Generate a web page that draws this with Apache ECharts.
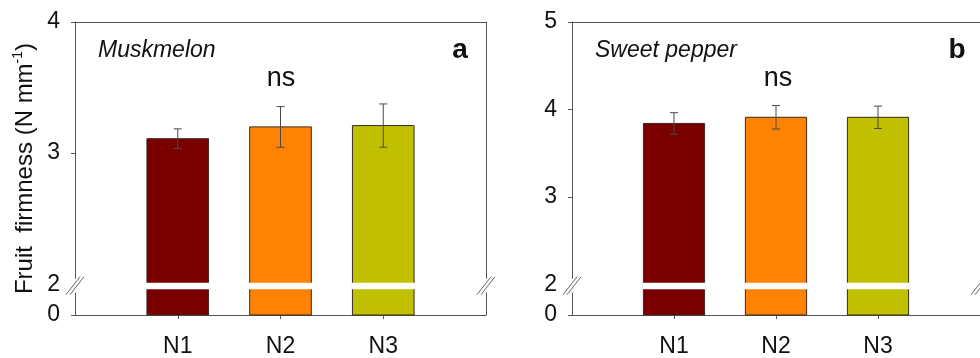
<!DOCTYPE html>
<html>
<head>
<meta charset="utf-8">
<script src="https://cdn.jsdelivr.net/npm/echarts@6/dist/echarts.min.js"></script>
<style>
  html, body { margin: 0; padding: 0; background: #fff; }
  #chart { width: 980px; height: 358px; }
</style>
</head>
<body>
<div id="chart"></div>
<script>
// Treatments and measured fruit firmness (mean ± SE)
const treatments = ['N1', 'N2', 'N3'];
const melonMean = [3.11, 3.20, 3.21];
const melonErr = [0.075, 0.155, 0.165];
const pepperMean = [3.84, 3.91, 3.91];
const pepperErr = [0.123, 0.134, 0.128];

// Tick labels of the broken y axes
const melonTicks = [0, 2, 3, 4];
const pepperTicks = [0, 2, 3, 4, 5];

const barColors = ['#7a0000', '#ff8200', '#c0c000'];
const FONT = '"Liberation Sans", Arial, sans-serif';
const AXIS_COLOR = '#555';
const BREAK_AT = 2;          // the axis is broken between 0 and 2
const BREAK_PX = 31;         // pixel height of the compressed 0..2 segment

// Layout of the two panels
const panels = [
  { left: 75, top: 22, width: 411, height: 295, ticks: melonTicks, mean: melonMean, err: melonErr,
    crop: 'Muskmelon', letter: 'a', yName: true },
  { left: 572, top: 22, width: 411, height: 296, ticks: pepperTicks, mean: pepperMean, err: pepperErr,
    crop: 'Sweet pepper', letter: 'b', yName: false }
];

// Broken-scale helper: values below the break share a short segment at the bottom
panels.forEach(p => {
  const max = p.ticks[p.ticks.length - 1];
  p.max = max;
  p.gapUnits = BREAK_PX * (max - BREAK_AT) / (p.height - BREAK_PX);
  p.min = BREAK_AT - p.gapUnits;
  p.toAxis = v => v >= BREAK_AT ? v : p.min + v * p.gapUnits / BREAK_AT;
});

const BAR_W = 0.6;  // bar width in x-axis units (one unit per treatment slot)

function barRenderer(p) {
  return function (params, api) {
    const x = api.value(0), y = api.value(1), e = api.value(2);
    const topPt = api.coord([x, y]);
    const basePt = api.coord([x, p.toAxis(0)]);
    const brk = api.coord([x, BREAK_AT])[1];
    const w = api.size([BAR_W, 0])[0];
    const hi = api.coord([x, y + e])[1];
    const lo = api.coord([x, y - e])[1];
    const cx = topPt[0];
    const cap = 4;
    const errStyle = { stroke: '#4a4a4a', lineWidth: 1 };
    return {
      type: 'group',
      children: [
        { type: 'rect', shape: { x: cx - w / 2, y: topPt[1], width: w, height: basePt[1] - topPt[1] },
          style: { fill: barColors[params.dataIndex], stroke: '#3b2a20', lineWidth: 1 } },
        { type: 'rect', shape: { x: cx - w / 2 - 1, y: brk - 1.5, width: w + 2, height: 6.5 },
          style: { fill: '#ffffff' } },
        { type: 'line', shape: { x1: cx, y1: hi, x2: cx, y2: lo }, style: errStyle },
        { type: 'line', shape: { x1: cx - cap, y1: hi, x2: cx + cap, y2: hi }, style: errStyle },
        { type: 'line', shape: { x1: cx - cap, y1: lo, x2: cx + cap, y2: lo }, style: errStyle }
      ]
    };
  };
}

// Break symbols (//) on the left and right frame lines
function breakRenderer(p) {
  return function (params, api) {
    const children = [];
    [0, 4].forEach(xv => {
      const pt = api.coord([xv, BREAK_AT]);
      const cx = pt[0], cy = pt[1] + 1.5;
      children.push({ type: 'rect', shape: { x: cx - 2, y: cy - 7, width: 4, height: 14 }, style: { fill: '#fff' } });
      [-2, 2].forEach(d => {
        children.push({ type: 'line',
          shape: { x1: cx - 7 + d, y1: cy + 9, x2: cx + 7 + d, y2: cy - 9 },
          style: { stroke: '#666', lineWidth: 1 } });
      });
    });
    return { type: 'group', children };
  };
}

const grid = [], xAxis = [], yAxis = [], series = [], graphic = [];

panels.forEach((p, i) => {
  grid.push({ left: p.left, top: p.top, width: p.width, height: p.height, containLabel: false });

  const tickVals = p.ticks.map(p.toAxis);
  const labelFor = v => {
    const k = tickVals.findIndex(t => Math.abs(t - v) < 1e-6);
    return k >= 0 ? String(p.ticks[k]) : '';
  };

  xAxis.push({
    type: 'value', gridIndex: i, min: 0, max: 4, position: 'bottom',
    axisLine: { show: true, onZero: false, lineStyle: { color: AXIS_COLOR, width: 1 } },
    axisTick: { show: true, inside: false, length: 4, customValues: [1, 2, 3], lineStyle: { color: AXIS_COLOR } },
    axisLabel: { customValues: [1, 2, 3], formatter: v => treatments[Math.round(v) - 1] || '',
      fontFamily: FONT, fontSize: 23, color: '#111', margin: 20 },
    splitLine: { show: false }
  });
  xAxis.push({
    type: 'value', gridIndex: i, min: 0, max: 4, position: 'top',
    axisLine: { show: true, onZero: false, lineStyle: { color: AXIS_COLOR, width: 1 } },
    axisTick: { show: false }, axisLabel: { show: false }, splitLine: { show: false }
  });

  yAxis.push({
    type: 'value', gridIndex: i, min: p.min, max: p.max, position: 'left',
    axisLine: { show: true, onZero: false, lineStyle: { color: AXIS_COLOR, width: 1 } },
    axisTick: { show: true, inside: false, length: 4,
      customValues: tickVals.filter((t, k) => p.ticks[k] !== BREAK_AT), lineStyle: { color: AXIS_COLOR } },
    axisLabel: { customValues: tickVals, formatter: labelFor,
      fontFamily: FONT, fontSize: 23, color: '#111', margin: 15 },
    splitLine: { show: false },
    name: p.yName ? 'Fruit  firmness (N mm{sup|-1})' : '',
    nameLocation: 'middle', nameRotate: 90, nameGap: 36,
    nameTextStyle: { fontFamily: FONT, fontSize: 24, color: '#111', lineHeight: 28,
      rich: { sup: { fontFamily: FONT, fontSize: 14, color: '#111', verticalAlign: 'top', lineHeight: 12 } } }
  });
  yAxis.push({
    type: 'value', gridIndex: i, min: p.min, max: p.max, position: 'right',
    axisLine: { show: true, onZero: false, lineStyle: { color: AXIS_COLOR, width: 1 } },
    axisTick: { show: false }, axisLabel: { show: false }, splitLine: { show: false }
  });

  const data = treatments.map((t, k) => [k + 1, p.mean[k], p.err[k]]);
  series.push({
    type: 'custom', xAxisIndex: 2 * i, yAxisIndex: 2 * i,
    renderItem: barRenderer(p), data, encode: { x: 0, y: 1 }, z: 3, silent: true
  });
  series.push({
    type: 'custom', xAxisIndex: 2 * i, yAxisIndex: 2 * i,
    renderItem: breakRenderer(p), data: [[0, BREAK_AT]], encode: { x: 0, y: 1 }, z: 4, silent: true
  });

  // Panel annotations
  graphic.push({ type: 'text', x: p.left + 23, y: 51,
    style: { text: p.crop, font: 'italic 23px ' + FONT, fill: '#111', verticalAlign: 'middle' } });
  graphic.push({ type: 'text', x: p.left + 385, y: 50,
    style: { text: p.letter, font: 'bold 28px ' + FONT, fill: '#111', align: 'center', verticalAlign: 'middle' } });
  graphic.push({ type: 'text', x: p.left + 2 * p.width / 4 + 0.5, y: 79,
    style: { text: 'ns', font: '27px ' + FONT, fill: '#111', align: 'center', verticalAlign: 'middle' } });
});

const chart = echarts.init(document.getElementById('chart'), null, { renderer: 'canvas' });
chart.setOption({
  backgroundColor: '#ffffff',
  animation: false,
  grid, xAxis, yAxis, series, graphic
});
</script>
</body>
</html>
